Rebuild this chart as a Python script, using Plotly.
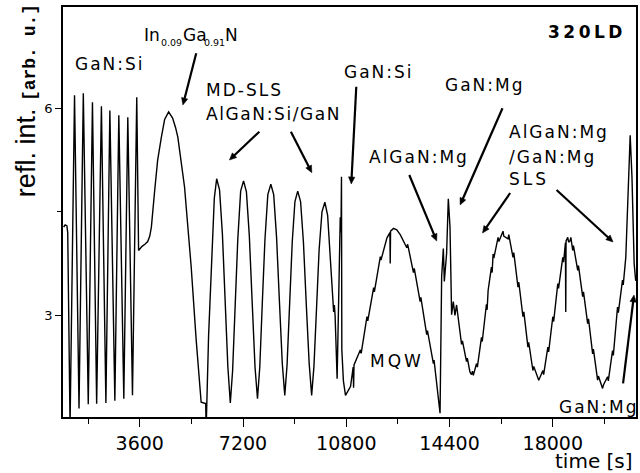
import math
import plotly.graph_objects as go

# ---------------- data ----------------
time_s = [
    946, 1000, 1060, 1090, 1171, 1327, 1483, 1633, 1806, 1952, 2098, 2264, 2420, 2559,
    2733, 2871, 3045, 3184, 3347, 3496, 3560, 3600, 3680, 3780, 3878,
    3950, 4006, 4121, 4225, 4353, 4468, 4607, 4746, 4850, 4929, 5162, 5394, 5568, 5741,
    5900, 5915,
    6000, 6100, 6200, 6282, 6382, 6482, 6582, 6672, 6758, 6838, 6928, 7018, 7118, 7219,
    7319, 7419, 7519, 7619, 7705, 7785, 7875, 7965, 8065, 8170, 8270, 8370, 8470, 8570,
    8656, 8736, 8826, 8916, 9010, 9107, 9207, 9307, 9407, 9507, 9593, 9673, 9763, 9853,
    9953, 10054, 10150, 10260, 10360, 10385, 10410, 10481, 10530, 10590, 10615, 10633,
    10645, 10700, 10773,
    10887, 10950, 11040, 11055, 11070, 11293, 11320, 11522, 11550, 11754, 11780, 11987,
    12010, 12216, 12320, 12332, 12344, 12448, 12560, 12681, 12910, 12940, 13142, 13170,
    13375, 13400, 13604, 13630, 13837, 13860, 13960, 14069,
    14125, 14184, 14218, 14298, 14357, 14416, 14472, 14531, 14589, 14645, 14819, 14850,
    14992, 15020, 15110, 15166, 15200, 15230, 15339, 15370, 15513, 15540, 15686, 15710,
    15745, 15860, 15885,
    15918, 15945, 16092, 16120, 16265, 16290, 16439, 16465, 16612, 16640, 16786, 16815,
    16959, 16990, 17133, 17160, 17306, 17335, 17480, 17510, 17653, 17680, 17827, 17855,
    18000, 18030, 18174, 18200, 18347, 18375, 18440, 18451, 18462, 18521, 18550, 18600,
    18630, 18694, 18720, 18868, 18895, 19041, 19070, 19215, 19245, 19388, 19415, 19562,
    19590, 19735, 19765, 19909, 19935, 20082, 20110, 20256, 20285, 20429, 20455, 20544,
    20603, 20697, 20760, 20836, 20890,
]
refl_int = [
    4.28, 4.31, 4.30, 4.20, 1.40, 6.19, 1.65, 6.22, 1.71, 6.09, 1.72, 6.03, 1.73, 5.97,
    1.76, 5.90, 1.79, 5.87, 1.84, 6.16, 3.94, 3.96, 4.00, 4.03, 4.07,
    4.15, 4.28, 4.81, 5.25, 5.58, 5.84, 5.95, 5.86, 5.72, 5.58, 4.86, 3.70, 2.64, 1.74,
    1.72, 1.35,
    2.70, 3.85, 4.70, 4.98, 4.82, 4.18, 3.20, 2.25, 1.73, 2.20, 3.15, 4.10, 4.80, 4.95,
    4.79, 4.16, 3.20, 2.25, 1.79, 2.25, 3.20, 4.10, 4.75, 4.90, 4.75, 4.13, 3.20, 2.30,
    1.84, 2.28, 3.17, 4.06, 4.65, 4.80, 4.65, 4.06, 3.15, 2.30, 1.84, 2.26, 3.10, 3.95,
    4.50, 4.64, 4.45, 3.70, 3.05, 3.15, 3.00, 2.08, 3.30, 4.42, 4.20, 5.01,
    2.50, 2.05, 1.84,
    1.93, 1.97, 2.25, 1.95, 2.28, 2.50, 2.45, 2.98, 2.92, 3.40, 3.34, 3.85,
    3.80, 4.12, 4.20, 3.75, 4.22, 4.26, 4.24, 4.17, 3.98, 4.03, 3.62, 3.68,
    3.20, 3.26, 2.72, 2.78, 2.30, 2.35, 2.00, 1.58,
    3.56, 3.97, 3.49, 3.90, 4.69, 4.28, 3.01, 3.20, 3.00, 3.15, 2.58, 2.63,
    2.33, 2.38, 2.18, 2.14, 2.19, 2.13, 2.30, 2.25, 2.68, 2.62, 3.16, 3.08,
    3.36, 3.70, 3.62,
    3.89, 3.83, 4.13, 4.07, 4.22, 4.15, 4.11, 4.17, 3.84, 3.91, 3.41, 3.48,
    2.98, 3.05, 2.54, 2.61, 2.20, 2.26, 2.11, 2.06, 2.20, 2.14, 2.54, 2.47,
    2.98, 2.91, 3.46, 3.39, 3.84, 3.77, 4.05, 3.05, 4.08, 4.13, 4.06, 4.08,
    4.13, 3.94, 4.01, 3.65, 3.72, 3.27, 3.34, 2.88, 2.95, 2.44, 2.51, 2.06,
    2.12, 1.94, 1.99, 2.11, 2.05, 2.49, 2.42, 3.12, 3.04, 3.51, 3.44, 3.84,
    4.47, 5.61, 5.00, 3.75, 3.50,
]
x_tick_vals = [3600, 7200, 10800, 14400, 18000]
y_tick_vals = [3, 6]

# ---------------- layout helpers (pixel -> paper) ----------------
L, R, T, B = 63, 638, 7, 417
W, H = 640, 473


def pxx(x):
    return (x - L) / (R - L)


def pxy(y):
    return (B - y) / (B - T)


def ls(s, sp=2.0):
    return f'<span style="letter-spacing:{sp}px">{s}</span>'


fig = go.Figure()
fig.add_trace(go.Scatter(x=time_s, y=refl_int, mode="lines",
                         line=dict(color="black", width=1.4), hoverinfo="skip"))

LABEL_FONT = dict(family="DejaVu Sans", size=17, color="black")
SUB_FONT = dict(family="DejaVu Sans", size=9.5, color="black")
annotations = []

# text labels: (text, x_px, y_px, xanchor, font)
labels = [
    (ls("GaN:Si"), 73, 63.5, LABEL_FONT),
    (ls("MD-SLS"), 204, 90, LABEL_FONT),
    (ls("AlGaN:Si/GaN", 1.6), 204, 114, LABEL_FONT),
    (ls("GaN:Si"), 342.5, 71.5, LABEL_FONT),
    (ls("GaN:Mg"), 444, 85, LABEL_FONT),
    (ls("AlGaN:Mg"), 368, 157, LABEL_FONT),
    (ls("AlGaN:Mg"), 509, 132, LABEL_FONT),
    (ls("/GaN:Mg"), 509, 156.5, LABEL_FONT),
    (ls("SLS", 3), 509, 179, LABEL_FONT),
    (ls("MQW", 3), 369, 361, LABEL_FONT),
    (ls("GaN:Mg"), 559, 406.5, LABEL_FONT),
    # In0.09Ga0.91N, pieces with small subscripts
    ("In", 142.5, 35, LABEL_FONT),
    ("0.09", 159.0, 42.5, SUB_FONT),
    ("Ga", 181.5, 35, LABEL_FONT),
    ("0.91", 202.5, 42.5, SUB_FONT),
    ("N", 224.0, 35, LABEL_FONT),
]
for txt, x, y, fnt in labels:
    annotations.append(dict(text=txt, x=pxx(x), y=pxy(y), xref="paper", yref="paper",
                            xanchor="left", yanchor="middle", showarrow=False, font=fnt))

annotations.append(dict(
    text=ls("<b>320LD</b>", 3.5), x=pxx(630), y=pxy(32), xref="paper", yref="paper",
    xanchor="right", yanchor="middle", showarrow=False,
    font=dict(family="DejaVu Sans", size=17, color="black")))

# axis titles
annotations.append(dict(
    text='refl. int. <span style="font-family:Liberation Mono;font-weight:bold;font-size:18px">[arb. u.]</span>',
    x=pxx(26), y=pxy(101), xref="paper", yref="paper", xanchor="center", yanchor="middle",
    textangle=-90, showarrow=False,
    font=dict(family="Liberation Sans", size=27, color="black")))
annotations.append(dict(
    text="time [s]", x=pxx(637), y=pxy(461), xref="paper", yref="paper",
    xanchor="right", yanchor="middle", showarrow=False,
    font=dict(family="DejaVu Sans", size=20, color="black")))

# arrows drawn as shapes: (head_x, head_y, tail_x, tail_y) in pixels
arrows = [
    (183.3, 105, 196.7, 53.3),
    (230, 160, 260, 131.7),
    (312.7, 172.7, 291.7, 131.7),
    (352.3, 184, 357.3, 86.7),
    (438, 241, 410.5, 175),
    (461.5, 205, 504, 108.3),
    (484, 233, 511.7, 193),
    (615, 242, 558.3, 190),
    (636, 295, 625, 383.3),
]
shapes = []
HEAD_LEN, HEAD_HALF = 7.0, 3.2
for hx, hy, tx, ty in arrows:
    dx, dy = hx - tx, hy - ty
    n = math.hypot(dx, dy)
    ux, uy = dx / n, dy / n
    bx, by = hx - ux * HEAD_LEN, hy - uy * HEAD_LEN
    shapes.append(dict(type="line", xref="paper", yref="paper",
                       x0=pxx(tx), y0=pxy(ty), x1=pxx(bx + ux * 1.5), y1=pxy(by + uy * 1.5),
                       line=dict(color="black", width=2.2)))
    p1 = (bx - uy * HEAD_HALF, by + ux * HEAD_HALF)
    p2 = (bx + uy * HEAD_HALF, by - ux * HEAD_HALF)
    path = (f"M {pxx(hx)},{pxy(hy)} L {pxx(p1[0])},{pxy(p1[1])} "
            f"L {pxx(p2[0])},{pxy(p2[1])} Z")
    shapes.append(dict(type="path", xref="paper", yref="paper", path=path,
                       fillcolor="black", line=dict(color="black", width=0.5)))

fig.update_layout(
    width=W, height=H,
    margin=dict(l=L, r=W - R, t=T, b=H - B, pad=0),
    paper_bgcolor="white", plot_bgcolor="white",
    showlegend=False,
    font=dict(family="DejaVu Sans", color="black"),
    annotations=annotations,
    shapes=shapes,
)
fig.update_xaxes(
    range=[925, 20900], tickvals=x_tick_vals, ticktext=[str(v) for v in x_tick_vals],
    ticks="outside", ticklen=8, tickwidth=1.3, tickcolor="black",
    minor=dict(ticks="outside", ticklen=5, tickwidth=1.3, tickcolor="black", dtick=1800, tick0=0),
    showline=True, linecolor="black", linewidth=1.5, mirror=True,
    showgrid=False, zeroline=False,
    tickfont=dict(family="DejaVu Sans", size=19, color="black"),
)
fig.update_yaxes(
    range=[1.526, 7.47], tickvals=y_tick_vals, ticktext=[str(v) for v in y_tick_vals],
    ticks="outside", ticklen=6, tickwidth=1.3, tickcolor="black",
    minor=dict(ticks="outside", ticklen=4, tickwidth=1.3, tickcolor="black", dtick=1.5, tick0=0),
    showline=True, linecolor="black", linewidth=1.5, mirror=True,
    showgrid=False, zeroline=False,
    tickfont=dict(family="DejaVu Sans", size=13, color="black"),
)

fig.write_html("out.html")
